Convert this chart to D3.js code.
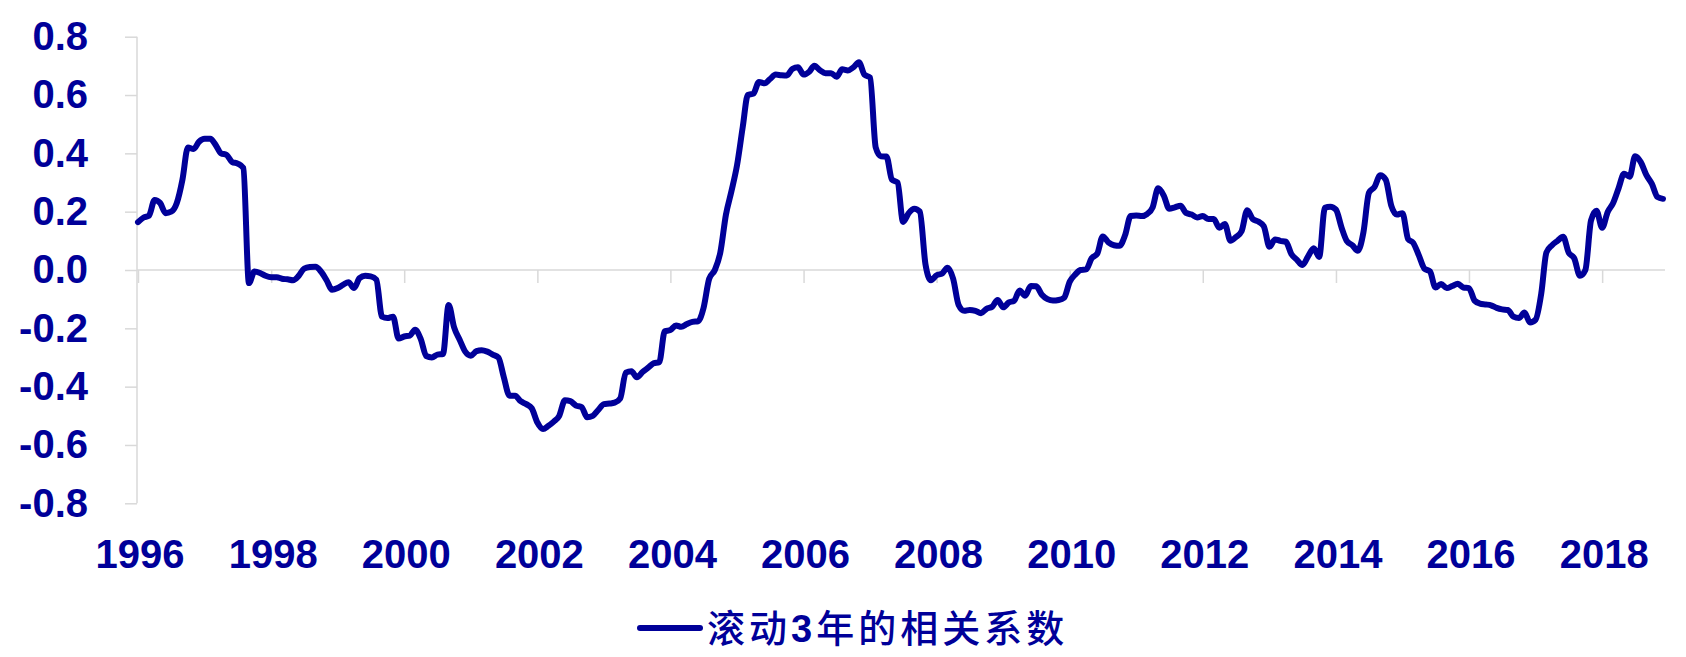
<!DOCTYPE html>
<html>
<head>
<meta charset="utf-8">
<script src="https://cdn.jsdelivr.net/npm/d3@7/dist/d3.min.js"></script>
<style>
  body { margin: 0; background: #fff; }
  svg { display: block; }
</style>
</head>
<body>
<div id="chart"></div>
<script>

// rolling 3-year correlation, monthly, Jan 1996 .. Dec 2018
var start = new Date(1996, 0, 1);
var v1996 = [0.164, 0.18, 0.186, 0.24, 0.23, 0.195, 0.2, 0.23, 0.31, 0.42, 0.415, 0.44];
var v1997 = [0.45, 0.45, 0.43, 0.4, 0.395, 0.37, 0.365, 0.35, -0.045, -0.005, -0.01, -0.02];
var v1998 = [-0.025, -0.025, -0.03, -0.032, -0.035, -0.02, 0.005, 0.01, 0.011, -0.005, -0.035, -0.068];
var v1999 = [-0.062, -0.05, -0.042, -0.062, -0.028, -0.02, -0.022, -0.033, -0.16, -0.165, -0.16, -0.235];
var v2000 = [-0.228, -0.225, -0.205, -0.237, -0.295, -0.3, -0.29, -0.288, -0.12, -0.197, -0.24, -0.28];
var v2001 = [-0.294, -0.278, -0.275, -0.28, -0.29, -0.3, -0.368, -0.431, -0.431, -0.45, -0.46, -0.474];
var v2002 = [-0.523, -0.545, -0.535, -0.52, -0.5, -0.447, -0.45, -0.465, -0.47, -0.505, -0.5, -0.48];
var v2003 = [-0.46, -0.458, -0.455, -0.44, -0.352, -0.347, -0.368, -0.35, -0.335, -0.32, -0.316, -0.21];
var v2004 = [-0.206, -0.19, -0.195, -0.185, -0.178, -0.176, -0.13, -0.03, 0.0, 0.06, 0.19, 0.27];
var v2005 = [0.36, 0.49, 0.6, 0.605, 0.645, 0.64, 0.655, 0.67, 0.668, 0.667, 0.69, 0.695];
var v2006 = [0.67, 0.68, 0.7, 0.685, 0.675, 0.675, 0.663, 0.688, 0.684, 0.695, 0.712, 0.67];
var v2007 = [0.66, 0.42, 0.39, 0.389, 0.31, 0.3, 0.165, 0.195, 0.21, 0.2, 0.02, -0.035];
var v2008 = [-0.018, -0.012, 0.008, -0.03, -0.12, -0.14, -0.137, -0.14, -0.148, -0.133, -0.126, -0.103];
var v2009 = [-0.128, -0.111, -0.106, -0.07, -0.088, -0.055, -0.056, -0.085, -0.1, -0.105, -0.103, -0.095];
var v2010 = [-0.04, -0.015, 0.0, 0.002, 0.04, 0.056, 0.115, 0.095, 0.085, 0.083, 0.12, 0.185];
var v2011 = [0.187, 0.185, 0.192, 0.215, 0.28, 0.255, 0.21, 0.215, 0.22, 0.196, 0.19, 0.18];
var v2012 = [0.185, 0.175, 0.175, 0.145, 0.158, 0.1, 0.113, 0.133, 0.205, 0.175, 0.166, 0.15];
var v2013 = [0.08, 0.105, 0.1, 0.097, 0.055, 0.035, 0.017, 0.047, 0.075, 0.045, 0.213, 0.217];
var v2014 = [0.207, 0.145, 0.1, 0.085, 0.066, 0.13, 0.265, 0.285, 0.325, 0.31, 0.22, 0.19];
var v2015 = [0.195, 0.106, 0.093, 0.05, 0.005, -0.005, -0.06, -0.048, -0.062, -0.055, -0.047, -0.06];
var v2016 = [-0.062, -0.105, -0.115, -0.118, -0.121, -0.13, -0.135, -0.137, -0.16, -0.165, -0.146, -0.18];
var v2017 = [-0.17, -0.08, 0.06, 0.085, 0.1, 0.114, 0.06, 0.04, -0.02, 0.0, 0.17, 0.203];
var v2018 = [0.145, 0.2, 0.228, 0.28, 0.33, 0.32, 0.39, 0.37, 0.325, 0.295, 0.25, 0.244];

var yearTicks = [1996, 1998, 2000, 2002, 2004, 2006, 2008, 2010, 2012, 2014, 2016, 2018];
var yTicks = [0.8, 0.6, 0.4, 0.2, 0, -0.2, -0.4, -0.6, -0.8];
var seriesName = '滚动3年的相关系数';

var values = [].concat(v1996, v1997, v1998, v1999, v2000, v2001, v2002, v2003,
  v2004, v2005, v2006, v2007, v2008, v2009, v2010, v2011, v2012, v2013,
  v2014, v2015, v2016, v2017, v2018);

var dataset = values.map(function(v, i) {
  return { date: d3.timeMonth.offset(start, i), value: v };
});

var width = 1686;
var height = 657;
var navy = '#000099';
var grid = '#d9d9d9';
var font = '"Liberation Sans", Arial, sans-serif';

var svg = d3.select('#chart')
  .append('svg')
  .attr('width', width)
  .attr('height', height);

var x = d3.scaleTime()
  .domain([start, dataset[dataset.length - 1].date])
  .range([138, 1663]);

var y = d3.scaleLinear()
  .domain([-0.8, 0.8])
  .range([503.3, 36.7]);

// y axis
var yAxis = d3.axisLeft(y)
  .tickValues(yTicks)
  .tickSize(12)
  .tickPadding(37)
  .tickFormat(function(d) { return d.toFixed(1); });

var gy = svg.append('g')
  .attr('transform', 'translate(137,0)')
  .call(yAxis);
gy.select('.domain').attr('stroke', grid).attr('stroke-width', 1.5)
  .attr('d', 'M0,' + y(0.8) + 'V' + y(-0.8));
gy.selectAll('.tick line').attr('stroke', grid).attr('stroke-width', 1.5);
gy.selectAll('.tick text')
  .attr('fill', navy)
  .style('font-family', font)
  .style('font-weight', 'bold')
  .style('font-size', '40px');

// zero line with year ticks
var xAxis = d3.axisBottom(x)
  .tickValues(yearTicks.map(function(yr) { return new Date(yr, 0, 1); }))
  .tickSize(13)
  .tickFormat('');

var gx = svg.append('g')
  .attr('transform', 'translate(0,' + y(0) + ')')
  .call(xAxis);
gx.select('.domain').attr('stroke', grid).attr('stroke-width', 1.5)
  .attr('d', 'M137,0H1665');
gx.selectAll('.tick line').attr('stroke', grid).attr('stroke-width', 1.5);

svg.append('g')
  .selectAll('text')
  .data(yearTicks)
  .enter()
  .append('text')
  .attr('x', function(d) { return x(new Date(d, 0, 1)) + 2; })
  .attr('y', 568)
  .attr('text-anchor', 'middle')
  .attr('fill', navy)
  .style('font-family', font)
  .style('font-weight', 'bold')
  .style('font-size', '40px')
  .text(function(d) { return d; });

// series
var line = d3.line()
  .x(function(d) { return x(d.date); })
  .y(function(d) { return y(d.value); })
  .curve(d3.curveMonotoneX);

svg.append('path')
  .datum(dataset)
  .attr('d', line)
  .attr('fill', 'none')
  .attr('stroke', navy)
  .attr('stroke-width', 6)
  .attr('stroke-linejoin', 'round')
  .attr('stroke-linecap', 'round');

// legend
var legend = svg.append('g').attr('transform', 'translate(640,628)');
legend.append('line')
  .attr('x1', 0).attr('x2', 60)
  .attr('stroke', navy)
  .attr('stroke-width', 6)
  .attr('stroke-linecap', 'round');

var lt = legend.append('text')
  .attr('x', 67)
  .attr('y', 14)
  .attr('fill', navy)
  .style('font-family', '"Noto Sans CJK SC", sans-serif')
  .style('font-weight', '500')
  .style('font-size', '38px')
  .style('letter-spacing', '4px');
lt.append('tspan').text(seriesName.slice(0, 2));
lt.append('tspan')
  .style('font-family', font)
  .style('font-weight', 'bold')
  .text(seriesName.slice(2, 3));
lt.append('tspan').text(seriesName.slice(3));

</script>
</body>
</html>
